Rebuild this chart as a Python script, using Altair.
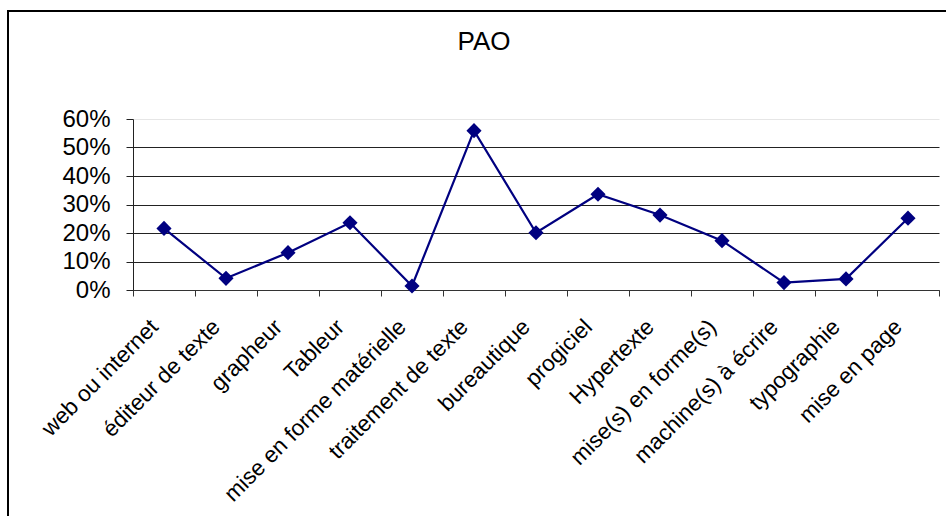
import altair as alt
import pandas as pd

categories = ["web ou internet", "éditeur de texte", "grapheur", "Tableur",
              "mise en forme matérielle", "traitement de texte", "bureautique",
              "progiciel", "Hypertexte", "mise(s) en forme(s)",
              "machine(s) à écrire", "typographie", "mise en page"]
values = [0.216, 0.041, 0.131, 0.236, 0.014, 0.559, 0.201, 0.336, 0.263,
          0.173, 0.026, 0.039, 0.252]
y_ticks = [0, 0.1, 0.2, 0.3, 0.4, 0.5, 0.6]
title_text = "PAO"

df = pd.DataFrame({"cat": categories, "val": values})
FONT = "Liberation Sans"
NAVY = "#000080"

x_enc = alt.X("cat:N", sort=categories,
              scale=alt.Scale(type="band", paddingInner=0, paddingOuter=0),
              axis=alt.Axis(title=None, labelAngle=-45, labelAlign="right",
                            labelBaseline="middle", labelFont=FONT, labelFontSize=22.5,
                            labelColor="black", labelPadding=27, labelOffset=-10,
                            tickBand="extent",
                            tickSize=6, tickColor="#333333", domainColor="#333333",
                            grid=False, labelLimit=400))
y_enc = alt.Y("val:Q", scale=alt.Scale(domain=[0, 0.6], nice=False),
              axis=alt.Axis(title=None, values=y_ticks, format=".0%",
                            labelFont=FONT, labelFontSize=24, labelColor="black",
                            tickSize=7, tickColor="#222222", domainColor="#222222",
                            labelPadding=16,
                            grid=True,
                            gridColor={"condition": {"test": "datum.value >= 0.6",
                                                     "value": "#e6e6e6"},
                                       "value": "#222222"}))

line = alt.Chart(df).mark_line(color=NAVY, strokeWidth=2.2).encode(x=x_enc, y=y_enc)
pts = alt.Chart(df).mark_point(shape="diamond", filled=True, size=230,
                               color=NAVY, opacity=1).encode(x=x_enc, y=y_enc)

one = alt.Data(values=[{}])
border_top = alt.Chart(one).mark_rule(color="black", strokeWidth=2).encode(
    x=alt.value(-126), x2=alt.value(900), y=alt.value(-108))
border_left = alt.Chart(one).mark_rule(color="black", strokeWidth=2).encode(
    x=alt.value(-125), y=alt.value(-109), y2=alt.value(420))
title = alt.Chart(one).mark_text(text=title_text, font=FONT, fontSize=26,
                                 color="black", baseline="alphabetic",
                                 align="center").encode(
    x=alt.value(351), y=alt.value(-69))

chart = alt.layer(line, pts, border_top, border_left, title).properties(
    width=806, height=171,
    autosize=alt.AutoSizeParams(type="none"),
    padding={"left": 133, "top": 119, "right": 7, "bottom": 226},
    background="white",
).configure_view(stroke=None)

chart.save("out.html", embed_options={"renderer": "svg", "actions": False})
